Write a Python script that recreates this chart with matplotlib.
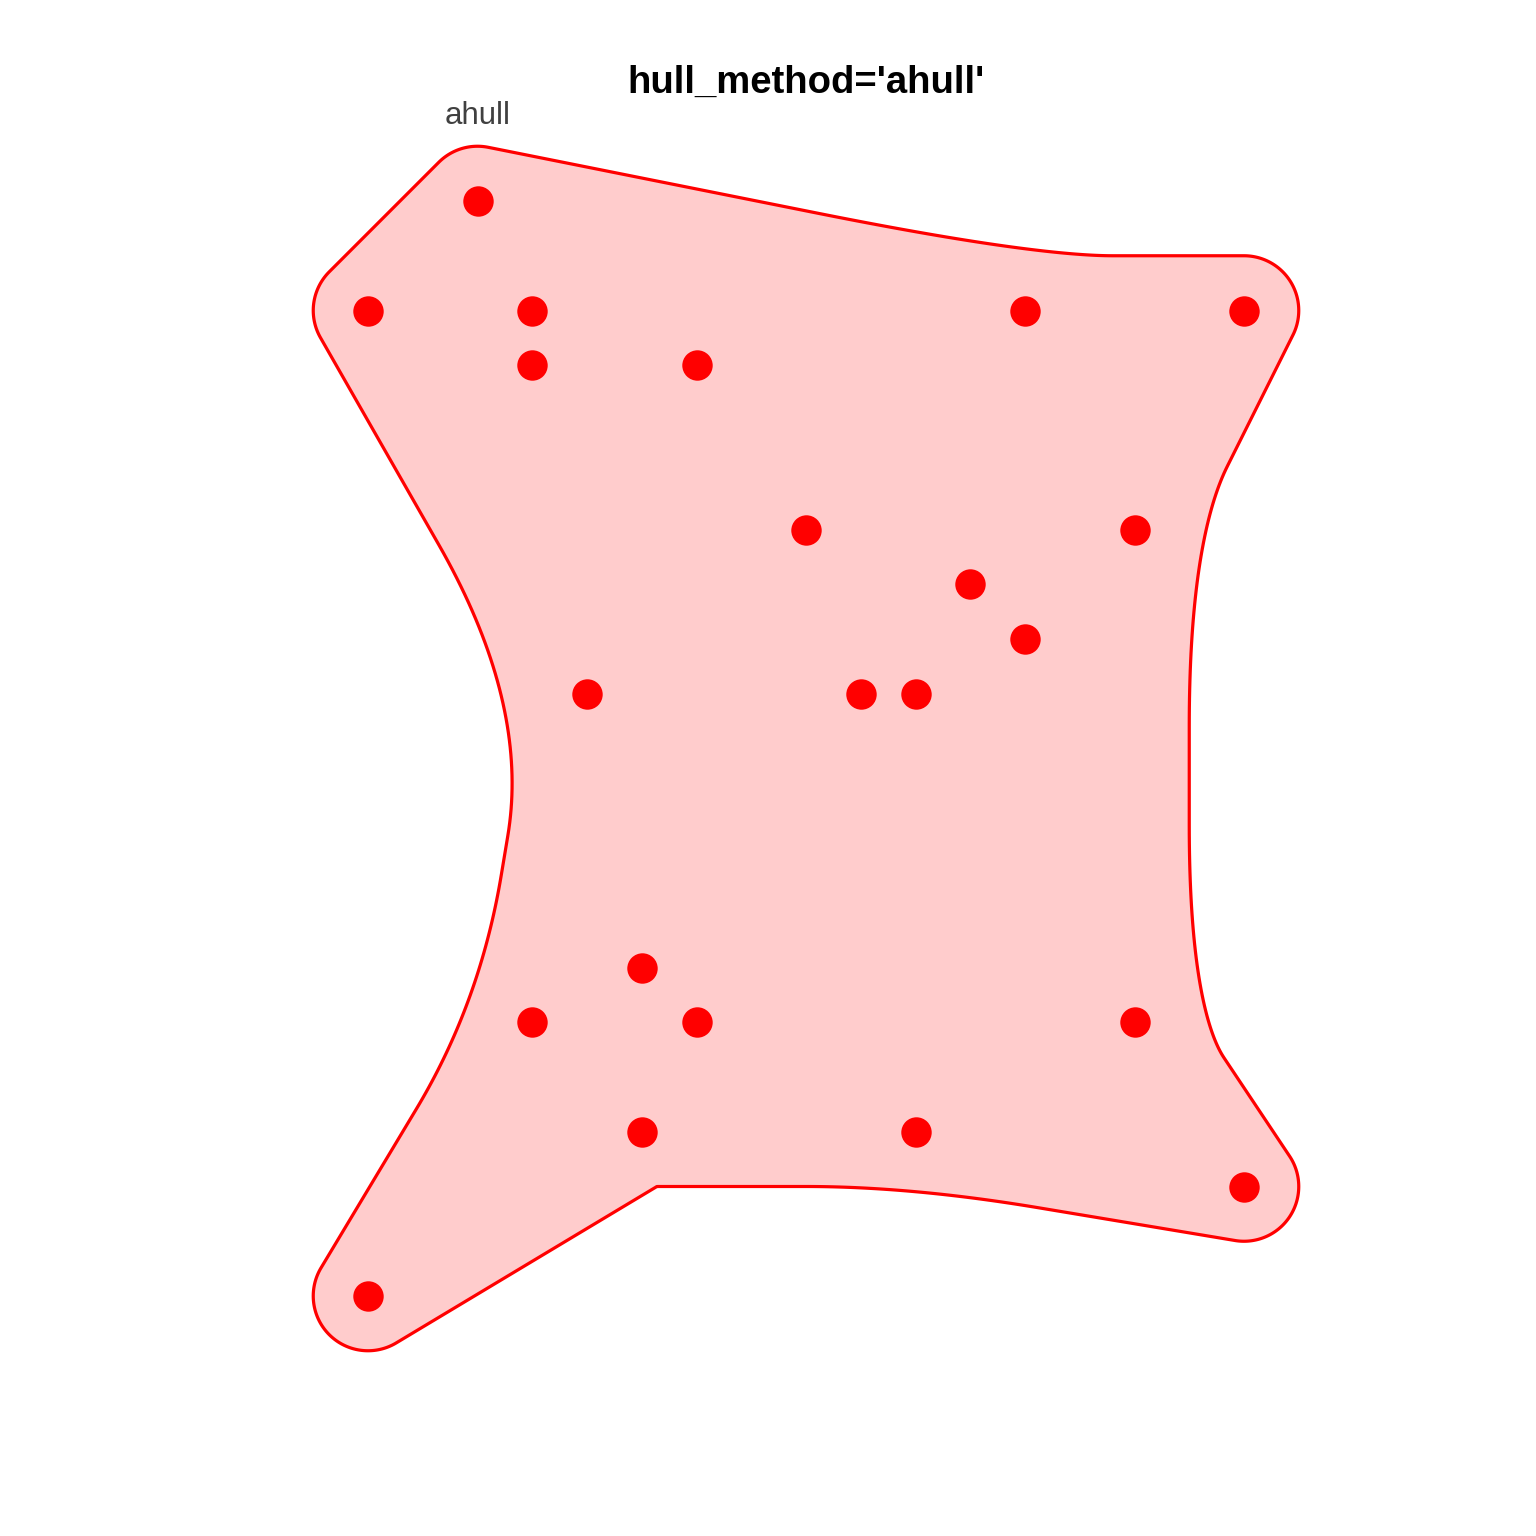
import matplotlib
matplotlib.use('Agg')
import matplotlib.pyplot as plt
import numpy as np
from matplotlib.path import Path

plt.rcParams['font.family'] = ['Liberation Sans', 'DejaVu Sans']

# point coordinates (grid units)
x = [2, 0, 3, 12, 16, 3, 6, 8, 14, 11, 12, 4, 9, 10, 5, 3, 6, 14, 5, 10, 16, 0]
y = [20, 18, 18, 18, 18, 17, 17, 14, 14, 13, 12, 11, 11, 11, 6, 5, 5, 5, 3, 3, 2, 0]

# concave hull vertices (counter clockwise) and how much each corner is rounded
hull_idx = [21, 18, 19, 20, 17, 8, 4, 3, 0, 1, 11, 15]
hull_smooth = [0, 0, 0.4, 0, 0.4, 0.4, 0, 0.4, 0, 0, 0.46, 0.42]
expand = 1.0

title = "hull_method='ahull'"
label = 'ahull'

red = '#FF0000'
fill = '#FFCCCC'

# build the (partly smoothed) hull outline
vx = np.array([x[i] for i in hull_idx], float)
vy = np.array([y[i] for i in hull_idx], float)
n = len(vx)
outline = []
t = np.linspace(0, 1, 40)[:, None]
for i in range(n):
    v = np.array([vx[i], vy[i]])
    p = np.array([vx[i - 1], vy[i - 1]])
    q = np.array([vx[(i + 1) % n], vy[(i + 1) % n]])
    s = hull_smooth[i]
    if s == 0:
        outline.append(v[None, :])
    else:
        a = v + s * (p - v)
        b = v + s * (q - v)
        outline.append((1 - t) ** 2 * a + 2 * (1 - t) * t * v + t ** 2 * b)
outline = np.vstack(outline)
closed = np.vstack([outline, outline[:1]])

# distance field to expand the hull
gx = np.arange(-1.6, 17.6, 0.025)
gy = np.arange(-1.6, 21.6, 0.025)
X, Y = np.meshgrid(gx, gy)
d = np.full(X.shape, np.inf)
for (ax_, ay_), (bx_, by_) in zip(closed[:-1], closed[1:]):
    dx, dy = bx_ - ax_, by_ - ay_
    ll = dx * dx + dy * dy
    if ll == 0:
        continue
    tt = np.clip(((X - ax_) * dx + (Y - ay_) * dy) / ll, 0, 1)
    d = np.minimum(d, np.hypot(X - ax_ - tt * dx, Y - ay_ - tt * dy))
inside = Path(closed).contains_points(np.c_[X.ravel(), Y.ravel()]).reshape(X.shape)
field = np.where(inside, -d, d)

fig = plt.figure(figsize=(15.36, 15.36), dpi=100)
ax = fig.add_axes([0, 0, 1, 1])
ax.contourf(X, Y, field, levels=[field.min() - 1, expand], colors=[fill], zorder=1)
ax.contour(X, Y, field, levels=[expand], colors=[red], linewidths=2.3, zorder=2)
ax.scatter(x, y, s=480, color=red, linewidths=0, zorder=3)

ax.text(8, 22.15, title, ha='center', va='center', fontsize=27.5, fontweight='bold')
ax.text(2, 21.55, label, ha='center', va='center', fontsize=22.5, color='#404040')

ax.set_xlim(-368 / 54.75, (1536 - 368) / 54.75)
ax.set_ylim((1296 - 1536) / 54.75, 1296 / 54.75)
ax.axis('off')

fig.savefig('out.png', dpi=100)
